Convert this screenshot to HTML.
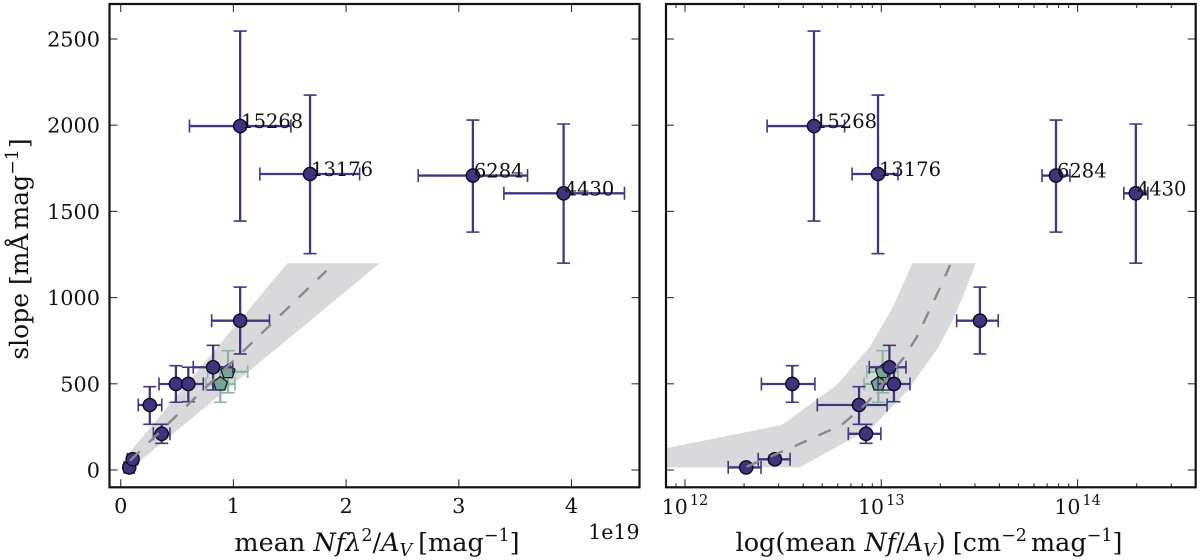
<!DOCTYPE html>
<html><head><meta charset="utf-8"><title>Slope vs mean Nf</title>
<style>
html,body{margin:0;padding:0;background:#fff;width:1200px;height:560px;overflow:hidden}
svg{display:block}
text{font-family:"DejaVu Serif","Liberation Serif",serif;fill:#111}
</style></head>
<body>
<svg id="chart" xmlns="http://www.w3.org/2000/svg" width="1200" height="560" viewBox="0 0 1200 560">
<text transform="translate(28,249) rotate(-90)" text-anchor="middle" font-size="25">slope [mÅ<tspan dx="4">mag</tspan><tspan font-size="17.5" dy="-10">−1</tspan><tspan dy="10" dx="1">]</tspan></text>
<text x="377" y="551" text-anchor="middle" font-size="25.5">mean <tspan font-style="italic">Nfλ</tspan><tspan font-size="17.5" dy="-10">2</tspan><tspan dy="10">/</tspan><tspan font-style="italic">A</tspan><tspan font-style="italic" font-size="17.5" dy="5">V</tspan><tspan dy="-5" dx="6">[mag</tspan><tspan font-size="17.5" dy="-10">−1</tspan><tspan dy="10">]</tspan></text>
<text x="639.5" y="539" text-anchor="end" font-size="20.5">1e19</text>
<text x="929" y="551" text-anchor="middle" font-size="25.5">log(mean <tspan font-style="italic">Nf</tspan>/<tspan font-style="italic">A</tspan><tspan font-style="italic" font-size="17.5" dy="5">V</tspan><tspan dy="-5">)</tspan><tspan dx="7">[cm</tspan><tspan font-size="17.5" dy="-10">−2</tspan><tspan dy="10" dx="4">mag</tspan><tspan font-size="17.5" dy="-10">−1</tspan><tspan dy="10">]</tspan></text>
</svg>
<script>
var slopes = [15, 62, 210, 377, 499, 499, 596, 866, 1995, 1717, 1708, 1605];
var slopeLow = [5, 40, 155, 265, 393, 396, 464, 673, 1444, 1255, 1380, 1200];
var slopeHigh = [30, 85, 265, 483, 605, 596, 723, 1061, 2546, 2175, 2030, 2007];
var lineNames = ['', '', '', '', '', '', '', '', '15268', '13176', '6284', '4430'];

var leftX = [0.076, 0.106, 0.364, 0.258, 0.49, 0.60, 0.82, 1.06, 1.06, 1.68, 3.125, 3.93];
var leftXLow = [0.03, 0.06, 0.29, 0.156, 0.34, 0.473, 0.644, 0.807, 0.61, 1.235, 2.64, 3.40];
var leftXHigh = [0.12, 0.15, 0.437, 0.364, 0.63, 0.733, 0.994, 1.32, 1.51, 2.12, 3.61, 4.47];

var rightX = [2.05e12, 2.87e12, 8.36e12, 7.7e12, 3.52e12, 1.16e13, 1.10e13, 3.18e13, 4.54e12, 9.62e12, 7.76e13, 1.98e14];
var rightXLow = [1.66e12, 2.36e12, 6.79e12, 4.72e12, 2.45e12, 9.62e12, 8.69e12, 2.42e13, 2.62e12, 7.1e12, 6.59e13, 1.72e14];
var rightXHigh = [2.44e12, 3.43e12, 9.95e12, 1.07e13, 4.59e12, 1.40e13, 1.336e13, 3.94e13, 6.5e12, 1.216e13, 9.14e13, 2.28e14];

var starSlopes = [570, 499];
var starSlopeLow = [448, 393];
var starSlopeHigh = [692, 600];
var starLeftX = [0.952, 0.884];
var starLeftXLow = [0.772, 0.757];
var starLeftXHigh = [1.127, 1.014];
var starRightX = [1.016e13, 9.66e12];
var starRightXLow = [8.43e12, 8.17e12];
var starRightXHigh = [1.216e13, 1.148e13];

var leftBandUpperX = [0.067, 1.48];
var leftBandUpperY = [93, 1200];
var leftBandLowerX = [2.30, 0.13];
var leftBandLowerY = [1200, 30];
var leftFitX = [0.0825, 1.825];
var leftFitY = [54, 1156];

var rightBandUpperX = [8e11, 8e11, 3.11e12, 5.93e12, 8.75e12, 1.148e13, 1.44e13];
var rightBandUpperY = [15, 127, 261, 493, 715, 947, 1200];
var rightBandLowerX = [3.03e13, 2.67e13, 2.32e13, 1.95e13, 1.37e13, 9.07e12, 3.85e12];
var rightBandLowerY = [1200, 1037, 870, 710, 464, 251, 15];
var rightFitX = [2.06e12, 3.63e12, 6.28e12, 8.43e12, 1.294e13, 1.515e13, 1.95e13, 2.24e13];
var rightFitY = [19, 139, 261, 387, 648, 770, 1034, 1189];

var slopeTicks = [0, 500, 1000, 1500, 2000, 2500];
var leftTicks = [0, 1, 2, 3, 4];
var rightDecades = [12, 13, 14];

var NS = 'http://www.w3.org/2000/svg';
var svg = document.getElementById('chart');
var TOP = 4, BOTTOM = 487.3;
function yScale(v) { return 470 - v * 0.1724; }
function leftScale(v) { return 120.7 + v * 112.7; }
function rightScale(v) { return 685 + 196.3 * (Math.log(v) / Math.LN10 - 12); }

function make(tag, attrs, parent) {
  var el = document.createElementNS(NS, tag);
  for (var k in attrs) el.setAttribute(k, attrs[k]);
  (parent || svg).appendChild(el);
  return el;
}
function seg(g, x1, y1, x2, y2, color, width) {
  return make('line', {x1: x1, y1: y1, x2: x2, y2: y2, stroke: color, 'stroke-width': width}, g);
}
function pts(xs, ys, sx) {
  return xs.map(function (x, i) { return sx(x).toFixed(1) + ',' + yScale(ys[i]).toFixed(1); });
}
function errorBar(g, sx, x, xl, xh, y, yl, yh, color) {
  var cx = sx(x), cy = yScale(y), a = sx(xl), b = sx(xh), c = yScale(yl), d = yScale(yh);
  seg(g, a, cy, b, cy, color, 2.3);
  seg(g, cx, c, cx, d, color, 2.3);
  seg(g, a, cy - 6.5, a, cy + 6.5, color, 1.6);
  seg(g, b, cy - 6.5, b, cy + 6.5, color, 1.6);
  seg(g, cx - 6.5, c, cx + 6.5, c, color, 1.6);
  seg(g, cx - 6.5, d, cx + 6.5, d, color, 1.6);
}

function panel(cfg) {
  var root = make('g', {});
  
  
  var clip = make('clipPath', {id: cfg.name + '-clip'}, root);
  make('rect', {x: cfg.l, y: TOP, width: cfg.r - cfg.l, height: BOTTOM - TOP}, clip);
  var body = make('g', {'clip-path': 'url(#' + cfg.name + '-clip)'}, root);

  var band = make('polygon', {
    points: pts(cfg.bandUX, cfg.bandUY, cfg.sx).concat(pts(cfg.bandLX, cfg.bandLY, cfg.sx)).join(' '),
    fill: '#d9d9db', stroke: 'none'
  }, body);
  
  

  var i;
  for (i = 0; i < starSlopes.length; i++) {
    var sg = make('g', {}, body);
    
    
    errorBar(sg, cfg.sx, cfg.starX[i], cfg.starXL[i], cfg.starXH[i], starSlopes[i], starSlopeLow[i], starSlopeHigh[i], '#8ab5a5');
  }
  for (i = 0; i < starSlopes.length; i++) {
    var sx0 = cfg.sx(cfg.starX[i]), sy0 = yScale(starSlopes[i]), p = [];
    for (var j = 0; j < 5; j++) {
      var ang = -Math.PI / 2 + j * 2 * Math.PI / 5;
      p.push((sx0 + 7.4 * Math.cos(ang)).toFixed(1) + ',' + (sy0 + 7.4 * Math.sin(ang)).toFixed(1));
    }
    var star = make('polygon', {points: p.join(' '), fill: '#74a596', stroke: '#0c1a18', 'stroke-width': 1.3}, body);
    
    
  }
  for (i = 0; i < slopes.length; i++) {
    var eg = make('g', {}, body);
    
    
    errorBar(eg, cfg.sx, cfg.x[i], cfg.xl[i], cfg.xh[i], slopes[i], slopeLow[i], slopeHigh[i], '#41367f');
  }
  for (i = 0; i < slopes.length; i++) {
    var dot = make('circle', {cx: cfg.sx(cfg.x[i]), cy: yScale(slopes[i]), r: 6.6, fill: '#41347f', stroke: '#0a0a1e', 'stroke-width': 1.4}, body);
    
    
  }
  var fit = make('polyline', {
    points: pts(cfg.fitX, cfg.fitY, cfg.sx).join(' '),
    fill: 'none', stroke: '#8a8a8c', 'stroke-width': 2.4, 'stroke-dasharray': '13.5 12.6'
  }, body);
  
  

  for (i = 0; i < slopes.length; i++) {
    if (!lineNames[i]) continue;
    var lab = make('text', {x: cfg.sx(cfg.x[i]) + 1, y: yScale(slopes[i]) + 2, 'font-size': 19.5}, root);
    lab.textContent = lineNames[i];
    
    
  }

  var ticks = make('g', {}, root);
  
  
  slopeTicks.forEach(function (t) {
    var y = yScale(t);
    seg(ticks, cfg.l, y, cfg.l + 8, y, '#333', 1.1);
    seg(ticks, cfg.r - 8, y, cfg.r, y, '#333', 1.1);
  });
  cfg.drawXTicks(ticks, root);

  var frame = make('rect', {x: cfg.l, y: TOP, width: cfg.r - cfg.l, height: BOTTOM - TOP, fill: 'none', stroke: '#111', 'stroke-width': 2.2}, root);
  
  
}

panel({
  name: 'left', l: 109.5, r: 639.5, sx: leftScale,
  x: leftX, xl: leftXLow, xh: leftXHigh,
  starX: starLeftX, starXL: starLeftXLow, starXH: starLeftXHigh,
  bandUX: leftBandUpperX, bandUY: leftBandUpperY, bandLX: leftBandLowerX, bandLY: leftBandLowerY,
  fitX: leftFitX, fitY: leftFitY,
  drawXTicks: function (g, root) {
    leftTicks.forEach(function (t) {
      var x = leftScale(t);
      seg(g, x, BOTTOM, x, BOTTOM - 8, '#333', 1.1);
      seg(g, x, TOP, x, TOP + 8, '#333', 1.1);
      var lab = make('text', {x: x, y: 513, 'text-anchor': 'middle', 'font-size': 20.8}, root);
      lab.textContent = t;
      
      
    });
    slopeTicks.forEach(function (t) {
      var lab = make('text', {x: 100, y: yScale(t) + 7.5, 'text-anchor': 'end', 'font-size': 20.8}, root);
      lab.textContent = t;
      
      
    });
  }
});

panel({
  name: 'right', l: 666, r: 1195.7, sx: rightScale,
  x: rightX, xl: rightXLow, xh: rightXHigh,
  starX: starRightX, starXL: starRightXLow, starXH: starRightXHigh,
  bandUX: rightBandUpperX, bandUY: rightBandUpperY, bandLX: rightBandLowerX, bandLY: rightBandLowerY,
  fitX: rightFitX, fitY: rightFitY,
  drawXTicks: function (g, root) {
    [11].concat(rightDecades).forEach(function (d) {
      for (var m = 1; m < 10; m++) {
        var v = m * Math.pow(10, d), x = rightScale(v);
        if (x < 667 || x > 1195) continue;
        var len = m === 1 ? 8 : 4;
        seg(g, x, BOTTOM, x, BOTTOM - len, '#333', 1.1);
        seg(g, x, TOP, x, TOP + len, '#333', 1.1);
      }
    });
    rightDecades.forEach(function (d) {
      var lab = make('text', {x: rightScale(Math.pow(10, d)), y: 514, 'text-anchor': 'middle', 'font-size': 20.5}, root);
      lab.textContent = '10';
      var sup = make('tspan', {'font-size': 14.5, dy: -9, dx: 2}, lab);
      sup.textContent = d;
      
      
    });
  }
});
</script>
</body></html>
